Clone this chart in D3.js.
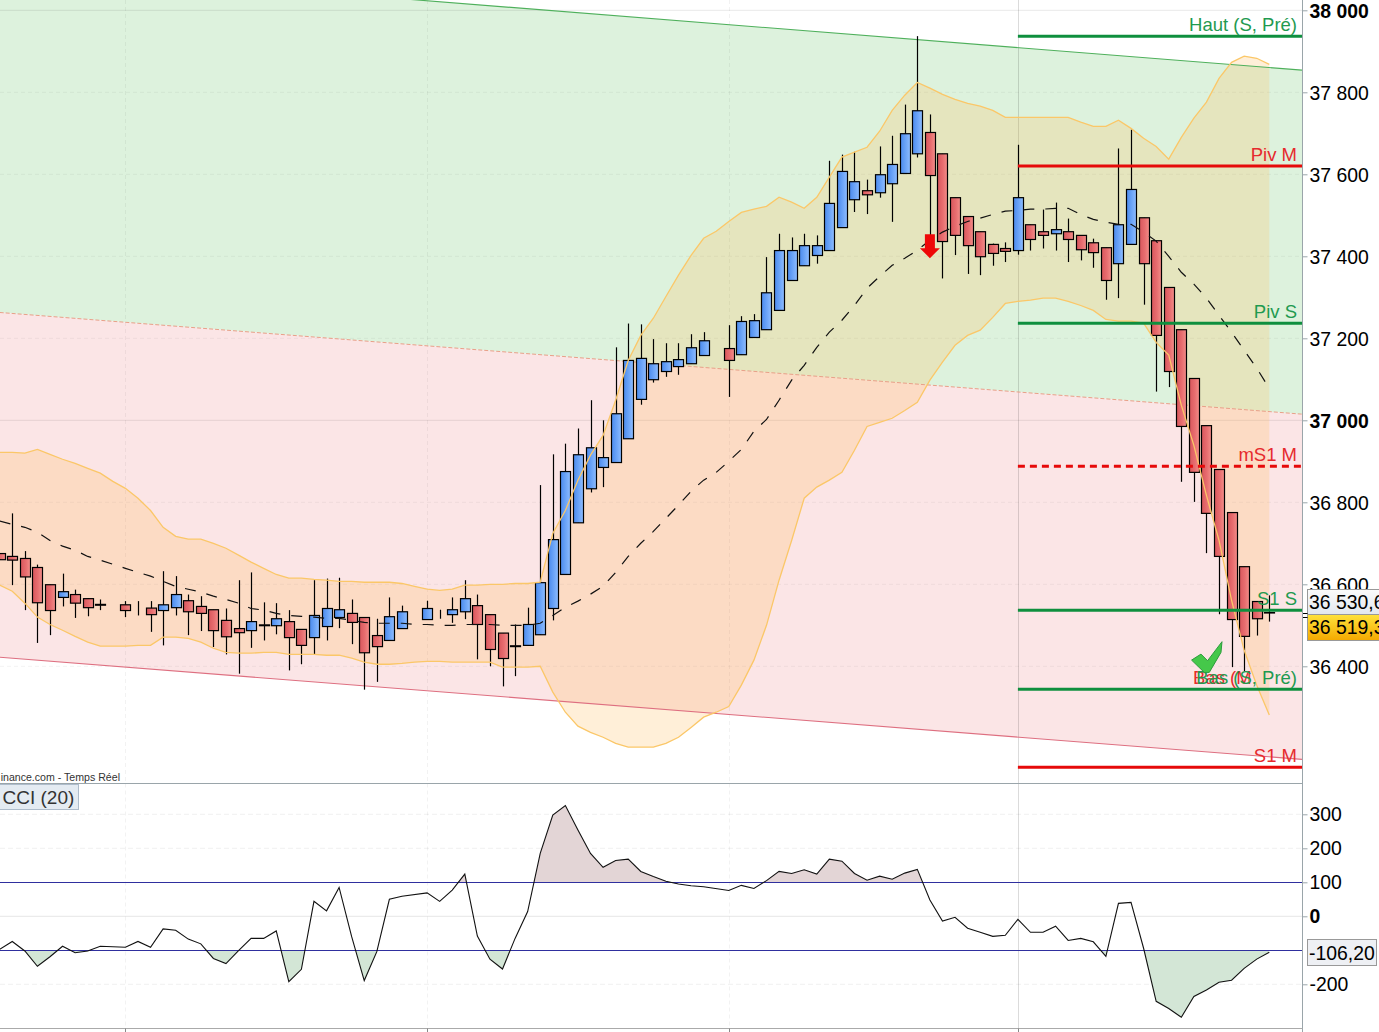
<!DOCTYPE html>
<html>
<head>
<meta charset="utf-8">
<script src="https://cdn.jsdelivr.net/npm/d3@7"></script>
<style>
    html, body { margin: 0; padding: 0; background: #fff; overflow: hidden; }
    svg { display: block; font-family: "Liberation Sans", Arial, sans-serif; }
</style>
</head>
<body>
<div id="wrapper"></div>
<script>
// one entry per slot, null where the feed has no candle
const open = [36675,36668,36663,36641,36599,36568,36575,36565,36551,null,
    36550,36543,36542,36536,36543,36560,36546,36538,36512,36492,
    36487,36501,36499,36509,36490,36470,36497,36519,36529,36519,
    36475,36463,36492,null,36514,36526,36526,36533,36548,36526,
    36481,36450,36451,36477,36541,36624,36750,36833,36885,36897,
    36955,37051,37099,37119,37131,37138,37158,null,37175,37160,
    37202,37221,37268,37341,37377,37402,37414,37470,37538,37560,
    37555,37577,37602,37650,37702,37650,37543,37497,37460,37429,
    37419,37414,37477,37460,37455,37460,37451,37433,37421,37382,
    37429,37494,37438,37324,37221,37102,36987,36880,36775,36643,
    36558,36530];
const high = [36675,36773,36681,36648,36599,36626,36587,36566,36563,null,
    36559,36559,36559,36632,36620,36575,36571,36538,36541,36610,
    36629,36556,36554,36537,36490,36610,36614,36616,36563,36519,
    36516,36568,36548,null,36560,36538,36568,36610,36575,36526,
    36481,36502,36543,36842,36917,36943,36980,37049,37000,37178,
    37236,37234,37198,37188,37188,37210,37215,null,37232,37254,
    37259,37398,37455,37446,37455,37451,37633,37648,37655,37587,
    37668,37694,37770,37937,37746,37650,37543,37497,37460,37431,
    37434,37672,37477,37514,37531,37492,37451,37443,37421,37663,
    37709,37494,37438,37324,37221,37102,36987,36880,36775,36643,
    36558,36573];
const low = [36660,36598,36537,36457,36476,36546,36518,36522,36537,null,
    36520,36524,36484,36451,36524,36476,36486,36447,36429,36382,
    36445,36463,36478,36390,36405,36429,36463,36493,36454,36343,
    36362,36463,36492,null,36514,36516,36506,36515,36417,36400,
    36351,36376,36451,36477,36512,36624,36750,36824,36837,36897,
    36955,37038,37092,37106,37111,37138,37158,null,37057,37160,
    37202,37221,37268,37341,37377,37382,37414,37470,37508,37503,
    37543,37484,37602,37641,37439,37346,37403,37357,37354,37377,
    37386,37404,37414,37419,37414,37386,37390,37372,37294,37298,
    37429,37282,37070,37081,36850,36801,36676,36527,36398,36388,
    36475,36509];
const close = [36660,36659,36618,36555,36536,36582,36554,36543,36549,null,
    36536,36543,36526,36550,36575,36533,36529,36487,36472,36482,
    36509,36499,36516,36470,36451,36524,36541,36538,36507,36433,
    36448,36521,36533,null,36541,36526,36538,36565,36502,36441,
    36419,36448,36502,36604,36709,36875,36916,36933,36909,37016,
    37146,37151,37138,37143,37148,37177,37194,null,37146,37241,
    37243,37311,37414,37414,37426,37426,37529,37607,37582,37550,
    37599,37624,37699,37755,37597,37436,37451,37426,37399,37407,
    37412,37543,37441,37451,37465,37441,37416,37409,37341,37477,
    37563,37382,37207,37119,36985,36873,36773,36668,36514,36473,
    36516,36531];

const bollUp = [36922,36922,36920,36929,36917,36905,36895,36883,36871,36851,
    36834,36810,36780,36739,36717,36710,36710,36700,36688,36671,
    36654,36639,36624,36615,36615,36612,36610,36607,36607,36605,
    36605,36605,36602,36595,36588,36585,36588,36598,36598,36600,
    36600,36602,36602,36605,36724,36780,36854,36915,36963,37049,
    37146,37207,37249,37302,37354,37402,37444,37461,37485,37507,
    37515,37522,37544,37532,37517,37544,37593,37642,37654,37666,
    37705,37756,37793,37824,37810,37795,37783,37773,37766,37756,
    37739,37739,37739,37739,37739,37739,37727,37717,37717,37732,
    37712,37688,37668,37637,37690,37737,37776,37834,37873,37888,
    37883,37868];
const bollLow = [36598,36583,36554,36520,36502,36488,36473,36459,36449,36449,
    36449,36451,36451,36471,36471,36468,36459,36444,36434,36432,
    36432,36434,36434,36429,36429,36429,36427,36427,36420,36410,
    36405,36405,36407,36410,36412,36412,36410,36410,36410,36410,
    36398,36398,36398,36400,36337,36288,36254,36239,36227,36212,
    36203,36203,36203,36212,36227,36251,36276,36288,36302,36354,
    36415,36500,36610,36707,36810,36837,36854,36873,36927,36985,
    36995,37005,37024,37044,37098,37142,37183,37207,37220,37251,
    37285,37290,37293,37298,37298,37290,37280,37268,37246,37242,
    37242,37237,37190,37159,37037,36939,36817,36707,36561,36439,
    36354,36281];
const bollMid = [36754,36746,36739,36727,36707,36693,36683,36668,36659,36649,
    36639,36629,36620,36607,36595,36588,36581,36571,36563,36554,
    36541,36537,36529,36524,36522,36520,36517,36517,36512,36507,
    36505,36505,36505,36502,36502,36500,36500,36502,36502,36502,
    36500,36500,36500,36505,36524,36544,36559,36576,36595,36629,
    36668,36700,36729,36761,36793,36827,36854,36873,36900,36929,
    36973,37002,37049,37098,37134,37178,37215,37244,37280,37322,
    37351,37378,37395,37415,37439,37459,37473,37485,37493,37502,
    37510,37512,37515,37515,37517,37517,37502,37490,37483,37478,
    37478,37459,37437,37400,37361,37332,37298,37256,37215,37171,
    37127,37078];
const cci = [-97,-74,-102,-147,-119,-88,-107,-102,-88,null,
    -91,-74,-91,-37,-41,-67,-81,-124,-139,-101,
    -65,-65,-43,-192,-156,44,16,85,-60,-189,
    -104,50,59,null,69,44,77,124,-58,-126,
    -155,-65,14,185,298,326,254,185,144,164,
    168,132,117,103,95,90,87,null,76,91,
    82,105,132,126,137,124,168,162,126,106,
    118,109,127,138,48,-14,-3,-35,-47,-59,
    -56,-9,-47,-47,-29,-71,-65,-75,-118,38,
    41,-94,-250,-271,-297,-236,-217,-194,-188,-153,
    -126,-106];

// regression channel, price at the left and right edge of the plot
const channelSlots = [0, 103.6];
const channelTop = [38106, 37854];
const channelMid = [37263, 37015];
const channelBottom = [36422, 36173];

const pivotNames = ["Haut (S, Pré)", "Piv M", "Piv S", "mS1 M", "S1 S", "Bas (S, Pré)", "S1 M"];
const pivotValues = [37937, 37620, 37237, 36888, 36537, 36344, 36154];
const pivotKinds = ["g", "r", "g", "rd", "g", "g", "r"];

const priceTicks = [38000, 37800, 37600, 37400, 37200, 37000, 36800, 36600, 36400];
const cciTicks = [300, 200, 100, 0, -200];
const cciLevels = [100, -100];
const timeBreaks = [10, 34, 58, 81];

const lastQuote = 36530.6;
const lastClose = 36519.3;
const lastCci = -106.20;

const width = 1379, height = 1032, plotRight = 1302.5;
const mainBottom = 783.5, cciBottom = 1028.5;

const fr = d3.formatLocale({ decimal: ",", thousands: " ", grouping: [3], currency: ["", " €"], minus: "-" });
const fmtPrice = fr.format(",d");

const xs = d3.scaleLinear().domain([0, 101]).range([-0.3, 1269.3]);
const yPrice = d3.scaleLinear().domain([36400, 37000]).range([666.3, 420.3]);
const yCci = d3.scaleLinear().domain([-200, 300]).range([984.3, 814.3]);

const svg = d3.select("#wrapper").append("svg")
    .attr("width", width)
    .attr("height", height);

const defs = svg.append("defs");
function hGradient(id, a, b, c) {
    const g = defs.append("linearGradient").attr("id", id);
    g.append("stop").attr("offset", "0%").attr("stop-color", a);
    g.append("stop").attr("offset", "55%").attr("stop-color", b);
    g.append("stop").attr("offset", "100%").attr("stop-color", c);
}
hGradient("bodyUp", "#4a8aee", "#6ea6f8", "#8fbdff");
hGradient("bodyDown", "#d8565c", "#e86e70", "#f38f8a");
function vGradient(id, a, b) {
    const g = defs.append("linearGradient").attr("id", id).attr("x2", 0).attr("y2", 1);
    g.append("stop").attr("offset", "0%").attr("stop-color", a);
    g.append("stop").attr("offset", "100%").attr("stop-color", b);
}
vGradient("quoteBox", "#fbfbfb", "#e2e7ef");
vGradient("closeBox", "#ffe23c", "#f4a900");

defs.append("clipPath").attr("id", "mainClip").append("rect")
    .attr("width", plotRight).attr("height", mainBottom);
defs.append("clipPath").attr("id", "aboveClip").append("rect")
    .attr("width", plotRight).attr("y", mainBottom).attr("height", yCci(100) - mainBottom);
defs.append("clipPath").attr("id", "belowClip").append("rect")
    .attr("width", plotRight).attr("y", yCci(-100)).attr("height", cciBottom - yCci(-100));

const main = svg.append("g").attr("clip-path", "url(#mainClip)");

// channel fills
const chan = channelSlots.map((s, i) => ({ s: s, t: channelTop[i], m: channelMid[i], b: channelBottom[i] }));
function chanArea(a, b) {
    return d3.area().x(d => xs(d.s)).y0(d => yPrice(d[a])).y1(d => yPrice(d[b]))(chan);
}
main.append("path").attr("d", chanArea("t", "m")).attr("fill", "#ddf2dd");
main.append("path").attr("d", chanArea("m", "b")).attr("fill", "#fbe5e6");

// grid
main.selectAll(".hgrid").data(priceTicks).enter().append("line")
    .attr("x1", 0).attr("x2", plotRight)
    .attr("y1", d => yPrice(d)).attr("y2", d => yPrice(d))
    .attr("stroke", "#000").attr("stroke-opacity", d => d % 1000 == 0 ? 0.09 : 0.05)
    .attr("stroke-dasharray", d => d % 1000 == 0 ? null : "4,3");
main.selectAll(".vgrid").data(timeBreaks).enter().append("line")
    .attr("x1", d => Math.round(xs(d)) + 0.5).attr("x2", d => Math.round(xs(d)) + 0.5)
    .attr("y1", 0).attr("y2", mainBottom)
    .attr("stroke", "#000").attr("stroke-opacity", d => d == 81 ? 0.14 : 0.05)
    .attr("stroke-dasharray", d => d == 81 ? null : "4,3");

// bollinger envelope
const slots = d3.range(bollUp.length);
main.append("path")
    .attr("d", d3.area().x(d => xs(d)).y0(d => yPrice(bollUp[d])).y1(d => yPrice(bollLow[d]))(slots))
    .attr("fill", "#ffb956").attr("fill-opacity", 0.23);

// channel lines
function chanLine(key) {
    return d3.line().x(d => xs(d.s)).y(d => yPrice(d[key]))(chan);
}
main.append("path").attr("d", chanLine("t")).attr("fill", "none").attr("stroke", "#4fb05c").attr("stroke-width", 1.1);
main.append("path").attr("d", chanLine("m")).attr("fill", "none").attr("stroke", "#e8a088")
    .attr("stroke-dasharray", "4,2");
main.append("path").attr("d", chanLine("b")).attr("fill", "none").attr("stroke", "#de6f80").attr("stroke-width", 1.1);

// candles
const candles = slots.filter(d => open[d] != null);
const candle = main.selectAll(".candle").data(candles).enter().append("g");
candle.append("line")
    .attr("x1", d => Math.round(xs(d)) + 0.5).attr("x2", d => Math.round(xs(d)) + 0.5)
    .attr("y1", d => yPrice(high[d])).attr("y2", d => yPrice(low[d]))
    .attr("stroke", "#000").attr("stroke-width", 1.2);
candle.append("rect")
    .attr("x", d => Math.round(xs(d)) - 4.5)
    .attr("width", 10)
    .attr("y", d => yPrice(Math.max(open[d], close[d])))
    .attr("height", d => Math.abs(yPrice(open[d]) - yPrice(close[d])))
    .attr("fill", d => close[d] >= open[d] ? "url(#bodyUp)" : "url(#bodyDown)")
    .attr("stroke", "#000").attr("stroke-width", 1.2);

// envelope border and middle average go over the candles
const bandLine = d3.line().x(d => xs(d));
main.append("path").attr("d", bandLine.y(d => yPrice(bollUp[d]))(slots))
    .attr("fill", "none").attr("stroke", "#fbc768").attr("stroke-width", 1.3);
main.append("path").attr("d", bandLine.y(d => yPrice(bollLow[d]))(slots))
    .attr("fill", "none").attr("stroke", "#fbc768").attr("stroke-width", 1.3);
main.append("path").attr("d", bandLine.y(d => yPrice(bollMid[d]))(slots))
    .attr("fill", "none").attr("stroke", "#111").attr("stroke-width", 1.2).attr("stroke-dasharray", "11,11");

// pivots
const pivotColor = { g: "#0e8f3e", r: "#e60a0a", rd: "#e60a0a" };
const textColor = { g: "#1f9a50", r: "#e62a2e", rd: "#e62a2e" };
main.selectAll(".pivot").data(pivotNames).enter().append("line")
    .attr("x1", xs(81)).attr("x2", plotRight)
    .attr("y1", (d, i) => yPrice(pivotValues[i])).attr("y2", (d, i) => yPrice(pivotValues[i]))
    .attr("stroke", (d, i) => pivotColor[pivotKinds[i]])
    .attr("stroke-width", 3)
    .attr("stroke-dasharray", (d, i) => pivotKinds[i] == "rd" ? "7,5" : null);

// the two "Bas" labels sit on top of each other in the source
main.append("text")
    .attr("x", 1193).attr("y", yPrice(36344) - 5.5)
    .attr("font-size", 18.5).attr("fill", "#e62a2e")
    .text("Bas (M");
main.selectAll(".pivotText").data(pivotNames).enter().append("text")
    .attr("x", 1297).attr("y", (d, i) => yPrice(pivotValues[i]) - 5.5)
    .attr("text-anchor", "end").attr("font-size", 18.5)
    .attr("fill", (d, i) => textColor[pivotKinds[i]])
    .text(d => d);

// sell signal and validated target
main.append("path")
    .attr("transform", `translate(${xs(74)},${yPrice(37454)})`)
    .attr("d", "M-5,0H5V14H10L0,24L-10,14H-5Z")
    .attr("fill", "#ee0808");
main.append("path")
    .attr("transform", `translate(${xs(98)},${yPrice(36420)})`)
    .attr("d", "M-40,2L-30.6,-4L-24,2.6L-9.6,-16.4L-10.6,-5.7L-22.3,14.3H-27.3Z")
    .attr("fill", "#45c84a").attr("stroke", "#2c9c3c");

svg.append("text")
    .attr("x", 120).attr("y", 781)
    .attr("text-anchor", "end").attr("font-size", 10.6).attr("fill", "#333")
    .text("inance.com - Temps Réel");

// price axis
const axisPrice = d3.axisRight(yPrice).tickValues(priceTicks).tickFormat(fmtPrice).tickSize(5).tickPadding(2);
const gPrice = svg.append("g").attr("transform", `translate(${plotRight},0)`).call(axisPrice);
gPrice.select(".domain").remove();
gPrice.selectAll("line").attr("stroke", "#9aa5aa");
gPrice.selectAll("text")
    .attr("font-size", 19.4).attr("fill", "#000").attr("font-family", "Liberation Sans")
    .attr("dy", "0.36em")
    .attr("font-weight", d => d % 1000 == 0 ? "bold" : "normal");

// last price boxes, the window cuts them off on the right
const quotes = [
    { v: lastQuote, top: 589, h: 25, fill: "url(#quoteBox)" },
    { v: lastClose, top: 614, h: 26, fill: "url(#closeBox)" }
];
svg.selectAll(".quoteBox").data(quotes).enter().append("rect")
    .attr("x", 1307.5).attr("y", d => d.top + 0.5).attr("width", 90).attr("height", d => d.h)
    .attr("fill", d => d.fill).attr("stroke", "#999");
svg.selectAll(".quoteText").data(quotes).enter().append("text")
    .attr("x", 1309).attr("y", d => d.top + 20)
    .attr("font-size", 19.4).attr("fill", "#000")
    .text(d => fr.format(",.1f")(d.v));
svg.selectAll(".quoteTick").data(quotes).enter().append("line")
    .attr("x1", plotRight).attr("x2", plotRight + 5)
    .attr("y1", d => Math.round(yPrice(d.v)) + 0.5).attr("y2", d => Math.round(yPrice(d.v)) + 0.5)
    .attr("stroke", "#000");

// CCI panel
const cciPanel = svg.append("g");
const cciDefined = slots.filter(d => cci[d] != null);
const cciLine = d3.line().x(d => xs(d)).y(d => yCci(cci[d]));
cciPanel.selectAll(".hgrid").data(cciTicks.filter(d => d != 100)).enter().append("line")
    .attr("x1", 0).attr("x2", plotRight)
    .attr("y1", d => yCci(d)).attr("y2", d => yCci(d))
    .attr("stroke", "#000").attr("stroke-opacity", d => d == 0 ? 0.1 : 0.06)
    .attr("stroke-dasharray", d => d == 0 ? null : "5,3");
cciPanel.selectAll(".vgrid").data(timeBreaks).enter().append("line")
    .attr("x1", d => Math.round(xs(d)) + 0.5).attr("x2", d => Math.round(xs(d)) + 0.5)
    .attr("y1", mainBottom).attr("y2", cciBottom)
    .attr("stroke", "#000").attr("stroke-opacity", d => d == 81 ? 0.14 : 0.05)
    .attr("stroke-dasharray", d => d == 81 ? null : "4,3");
cciPanel.append("path")
    .attr("clip-path", "url(#aboveClip)")
    .attr("d", d3.area().x(d => xs(d)).y0(yCci(100)).y1(d => yCci(cci[d]))(cciDefined))
    .attr("fill", "#e3d5d6");
cciPanel.append("path")
    .attr("clip-path", "url(#belowClip)")
    .attr("d", d3.area().x(d => xs(d)).y0(yCci(-100)).y1(d => yCci(cci[d]))(cciDefined))
    .attr("fill", "#d3e6d6");
cciPanel.selectAll(".level").data(cciLevels).enter().append("line")
    .attr("x1", 0).attr("x2", plotRight)
    .attr("y1", d => Math.round(yCci(d)) + 0.5).attr("y2", d => Math.round(yCci(d)) + 0.5)
    .attr("stroke", "#2f2f9e");
cciPanel.append("path")
    .attr("d", cciLine(cciDefined))
    .attr("fill", "none").attr("stroke", "#111").attr("stroke-width", 1.1);

const axisCci = d3.axisRight(yCci).tickValues(cciTicks).tickFormat(d => fr.format("d")(d)).tickSize(5).tickPadding(2);
const gCci = svg.append("g").attr("transform", `translate(${plotRight},0)`).call(axisCci);
gCci.select(".domain").remove();
gCci.selectAll("line").attr("stroke", "#9aa5aa");
gCci.selectAll("text")
    .attr("font-size", 19.4).attr("fill", "#000").attr("font-family", "Liberation Sans")
    .attr("font-weight", d => d == 0 ? "bold" : "normal");

svg.append("rect")
    .attr("x", 1307.5).attr("y", 939.5).attr("width", 69).attr("height", 26)
    .attr("fill", "#eef0f4").attr("stroke", "#999");
svg.append("text")
    .attr("x", 1309).attr("y", 959.5).attr("font-size", 19.4).attr("fill", "#000")
    .text(fr.format(".2f")(lastCci));

svg.append("rect")
    .attr("x", -1).attr("y", 784.5).attr("width", 79.5).attr("height", 25)
    .attr("fill", "#e4ebf2").attr("stroke", "#aebccb");
svg.append("text")
    .attr("x", 2.5).attr("y", 804).attr("font-size", 19).attr("fill", "#333")
    .text("CCI (20)");

// frame
svg.append("line").attr("x1", plotRight).attr("x2", plotRight).attr("y1", 0).attr("y2", cciBottom + 3.5)
    .attr("stroke", "#9aa5aa");
svg.append("line").attr("x1", 0).attr("x2", plotRight).attr("y1", mainBottom).attr("y2", mainBottom)
    .attr("stroke", "#9aa5aa");
svg.append("line").attr("x1", 0).attr("x2", plotRight).attr("y1", cciBottom).attr("y2", cciBottom)
    .attr("stroke", "#aaa");
svg.selectAll(".xtick").data(timeBreaks).enter().append("line")
    .attr("x1", d => Math.round(xs(d)) + 0.5).attr("x2", d => Math.round(xs(d)) + 0.5)
    .attr("y1", cciBottom).attr("y2", cciBottom + 4)
    .attr("stroke", "#888");
</script>
</body>
</html>
